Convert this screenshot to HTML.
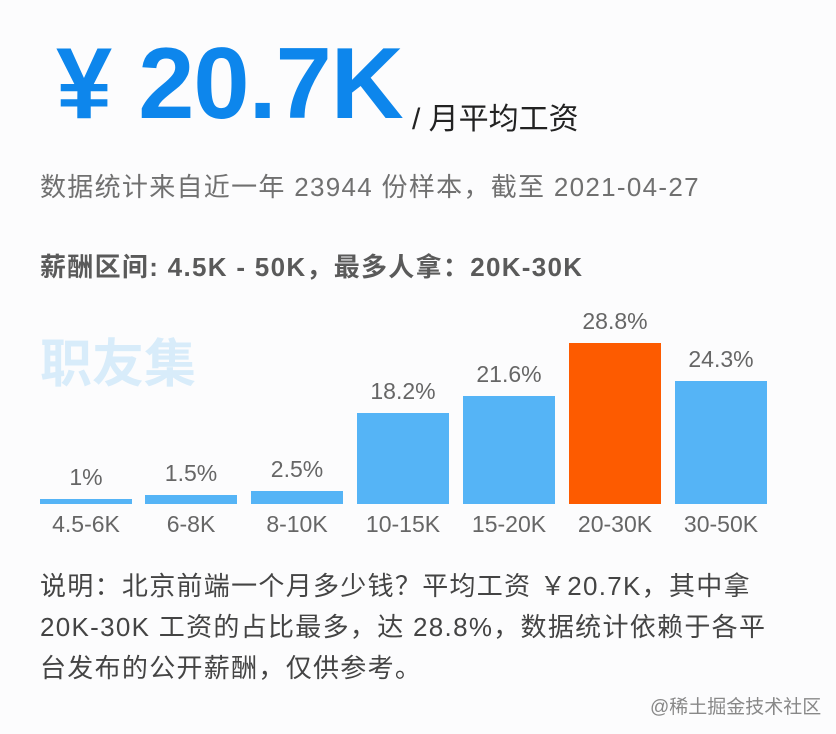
<!DOCTYPE html>
<html><head><meta charset="utf-8"><style>
body{margin:0;width:836px;height:734px;background:#fcfcfd;position:relative;overflow:hidden;font-family:"Liberation Sans","Noto Sans CJK SC",sans-serif}
.a{position:absolute;white-space:nowrap}
.bar{position:absolute;background:#55b4f6;bottom:230px;width:92px}
.lab{position:absolute;width:106px;text-align:center;font-size:23px;color:#666}
</style></head><body>
<div class="a" style="left:56px;top:27px;font-size:101px;font-weight:bold;color:#0d86ec;letter-spacing:-1px">¥ 20.7K</div>
<div class="a" style="left:412px;top:94px;font-size:30px;color:#222">/ 月平均工资</div>
<div class="a" style="left:40px;top:167px;font-size:26px;letter-spacing:1.3px;color:#707070">数据统计来自近一年 23944 份样本，截至 2021-04-27</div>
<div class="a" style="left:40px;top:247px;font-size:26px;letter-spacing:1.3px;font-weight:bold;color:#5a5a5a">薪酬区间: 4.5K - 50K，最多人拿：20K-30K</div>
<div class="a" style="left:40px;top:322px;font-size:52px;font-weight:bold;color:#d8ecfa">职友集</div>
<div class="bar" style="left:40px;height:5px"></div>
<div class="bar" style="left:145px;height:9px"></div>
<div class="bar" style="left:251px;height:13px"></div>
<div class="bar" style="left:357px;height:91px"></div>
<div class="bar" style="left:463px;height:108px"></div>
<div class="bar" style="left:569px;height:161px;background:#fd5b00"></div>
<div class="bar" style="left:675px;height:123px"></div>
<div class="lab" style="left:33px;top:464px">1%</div>
<div class="lab" style="left:138px;top:460px">1.5%</div>
<div class="lab" style="left:244px;top:456px">2.5%</div>
<div class="lab" style="left:350px;top:378px">18.2%</div>
<div class="lab" style="left:456px;top:361px">21.6%</div>
<div class="lab" style="left:562px;top:308px">28.8%</div>
<div class="lab" style="left:668px;top:346px">24.3%</div>
<div class="lab" style="left:33px;top:511px">4.5-6K</div>
<div class="lab" style="left:138px;top:511px">6-8K</div>
<div class="lab" style="left:244px;top:511px">8-10K</div>
<div class="lab" style="left:350px;top:511px">10-15K</div>
<div class="lab" style="left:456px;top:511px">15-20K</div>
<div class="lab" style="left:562px;top:511px">20-30K</div>
<div class="lab" style="left:668px;top:511px">30-50K</div>
<div class="a" style="left:40px;top:566px;font-size:26px;letter-spacing:1.3px;color:#444;line-height:41px">说明：北京前端一个月多少钱？平均工资 ￥20.7K，其中拿<br>20K-30K 工资的占比最多，达 28.8%，数据统计依赖于各平<br>台发布的公开薪酬，仅供参考。</div>
<div class="a" style="left:650px;top:692px;font-size:19px;color:#888">@稀土掘金技术社区</div>
</body></html>
